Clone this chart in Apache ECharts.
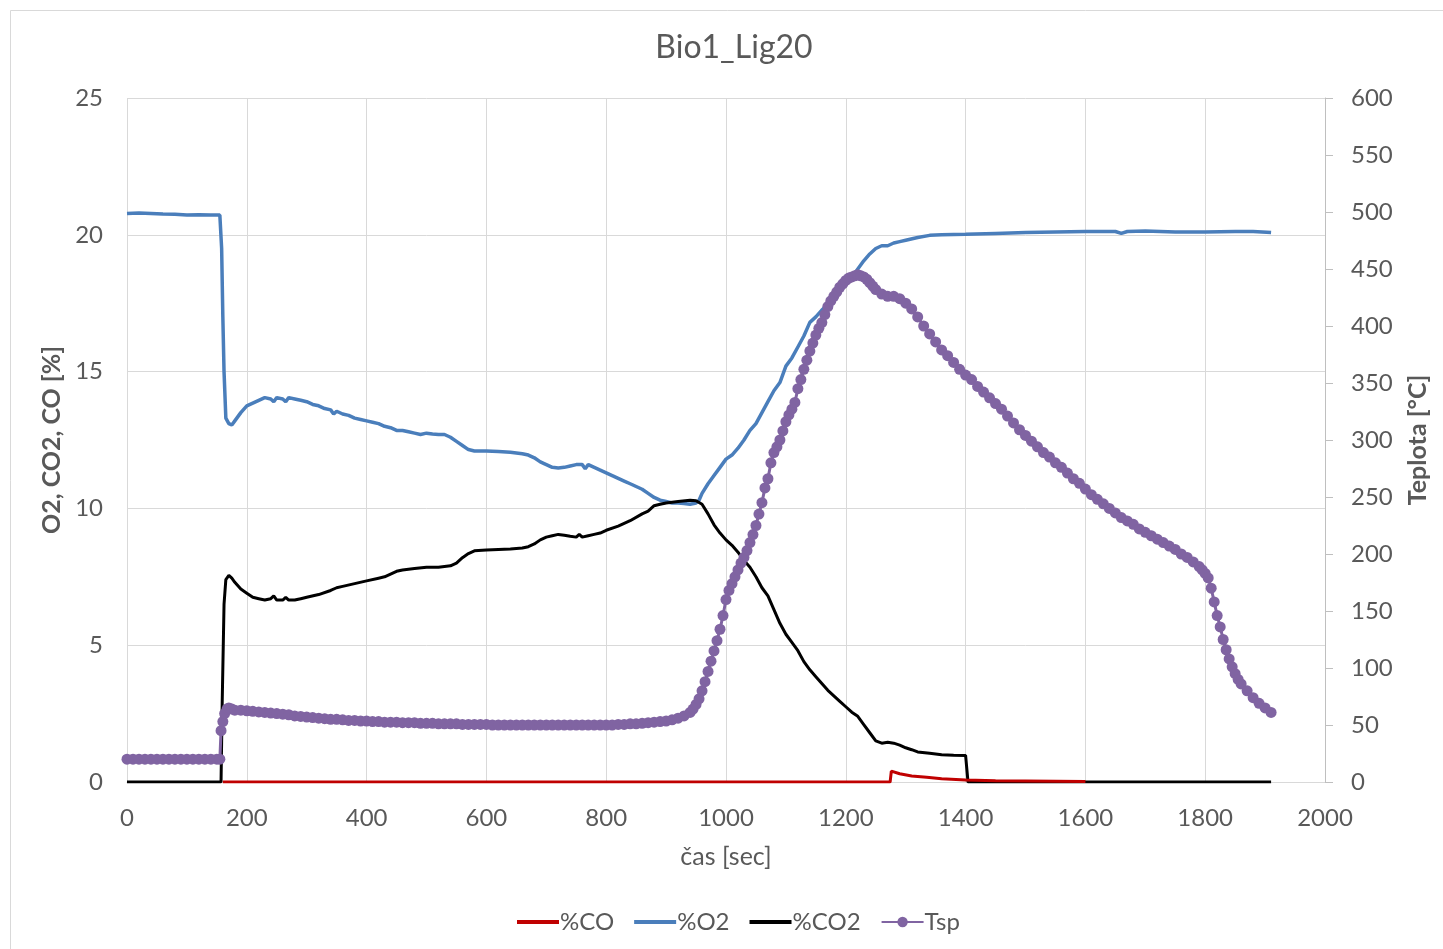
<!DOCTYPE html>
<html>
<head>
<meta charset="utf-8">
<title>Bio1_Lig20</title>
<script src="https://cdn.jsdelivr.net/npm/echarts@6/dist/echarts.min.js"></script>
<style>
  html, body { margin: 0; padding: 0; background: #ffffff; }
  #chart { width: 1443px; height: 949px; }
</style>
</head>
<body>
<div id="chart"></div>
<script>
// Measured gas concentrations [%] over time [s]
const coData = [
  [160, 0], [400, 0], [800, 0], [1200, 0], [1274, 0], [1276, 0.4], [1290, 0.3], [1310, 0.22],
  [1335, 0.17], [1360, 0.12], [1400, 0.07], [1450, 0.05], [1500, 0.04], [1550, 0.03], [1600, 0.02]
];

const o2Data = [
  [0, 20.78], [20, 20.8], [40, 20.78], [60, 20.76], [80, 20.75], [100, 20.72], [120, 20.73],
  [140, 20.72], [155, 20.72], [158, 19.5], [160, 17.0], [162, 15.0], [165, 13.3], [170, 13.1],
  [175, 13.05], [180, 13.2], [190, 13.5], [200, 13.75], [210, 13.85], [220, 13.95], [230, 14.05],
  [240, 14.0], [245, 13.9], [250, 14.05], [260, 14.0], [265, 13.9], [270, 14.05], [280, 14.0],
  [290, 13.95], [300, 13.9], [310, 13.8], [320, 13.75], [330, 13.65], [340, 13.6], [345, 13.45],
  [350, 13.55], [360, 13.45], [370, 13.4], [380, 13.3], [390, 13.25], [400, 13.2], [410, 13.15],
  [420, 13.1], [430, 13.0], [440, 12.95], [450, 12.85], [460, 12.85], [470, 12.8], [480, 12.75],
  [490, 12.7], [500, 12.75], [510, 12.72], [520, 12.7], [530, 12.7], [540, 12.6], [550, 12.45],
  [560, 12.3], [570, 12.15], [580, 12.1], [600, 12.1], [620, 12.08], [640, 12.05], [660, 12.0],
  [670, 11.95], [680, 11.85], [690, 11.7], [700, 11.6], [710, 11.5], [720, 11.48], [730, 11.5],
  [740, 11.55], [750, 11.6], [760, 11.6], [765, 11.45], [770, 11.6], [780, 11.5], [790, 11.4],
  [800, 11.3], [810, 11.2], [820, 11.1], [830, 11.0], [840, 10.9], [850, 10.8], [860, 10.7],
  [870, 10.55], [880, 10.4], [890, 10.3], [900, 10.25], [910, 10.2], [920, 10.2], [930, 10.18],
  [940, 10.15], [950, 10.2], [955, 10.3], [960, 10.55], [970, 10.9], [980, 11.2], [990, 11.5],
  [1000, 11.8], [1010, 11.95], [1020, 12.2], [1030, 12.5], [1040, 12.85], [1050, 13.1],
  [1060, 13.5], [1070, 13.9], [1080, 14.3], [1090, 14.6], [1100, 15.2], [1110, 15.5],
  [1120, 15.9], [1130, 16.3], [1140, 16.8], [1150, 17.0], [1160, 17.25], [1170, 17.45],
  [1180, 17.7], [1190, 17.95], [1200, 18.2], [1210, 18.45], [1220, 18.75], [1230, 19.05],
  [1240, 19.3], [1250, 19.5], [1260, 19.6], [1270, 19.6], [1280, 19.7], [1290, 19.75],
  [1300, 19.8], [1320, 19.9], [1340, 19.98], [1360, 20.0], [1400, 20.02], [1450, 20.05],
  [1500, 20.08], [1550, 20.1], [1600, 20.12], [1650, 20.12], [1660, 20.05], [1670, 20.12],
  [1700, 20.14], [1750, 20.1], [1800, 20.1], [1850, 20.12], [1880, 20.12], [1910, 20.08]
];

const co2Data = [
  [0, 0], [157, 0], [159, 3.0], [162, 6.5], [165, 7.4], [170, 7.55], [175, 7.45], [180, 7.3],
  [190, 7.05], [200, 6.9], [210, 6.75], [220, 6.7], [230, 6.65], [240, 6.7], [245, 6.8],
  [250, 6.65], [260, 6.65], [265, 6.75], [270, 6.65], [280, 6.65], [290, 6.7], [300, 6.75],
  [320, 6.85], [340, 7.0], [350, 7.1], [360, 7.15], [380, 7.25], [400, 7.35], [420, 7.45],
  [430, 7.5], [440, 7.6], [450, 7.7], [460, 7.75], [480, 7.8], [500, 7.85], [520, 7.85],
  [540, 7.9], [550, 8.0], [560, 8.2], [570, 8.35], [580, 8.45], [600, 8.48], [620, 8.5],
  [640, 8.52], [660, 8.55], [670, 8.6], [680, 8.7], [690, 8.85], [700, 8.95], [710, 9.0],
  [720, 9.05], [730, 9.02], [740, 8.98], [750, 8.95], [755, 9.05], [760, 8.95], [770, 9.0],
  [780, 9.05], [790, 9.1], [800, 9.2], [820, 9.35], [840, 9.55], [860, 9.8], [870, 9.9],
  [880, 10.1], [890, 10.15], [900, 10.2], [920, 10.25], [940, 10.3], [950, 10.28], [960, 10.15],
  [970, 9.8], [980, 9.4], [990, 9.1], [1000, 8.85], [1010, 8.65], [1020, 8.4], [1030, 8.1],
  [1040, 7.85], [1050, 7.5], [1060, 7.1], [1070, 6.8], [1080, 6.3], [1090, 5.8], [1100, 5.4],
  [1110, 5.1], [1120, 4.8], [1130, 4.4], [1140, 4.1], [1150, 3.85], [1160, 3.6], [1170, 3.35],
  [1180, 3.15], [1190, 2.95], [1200, 2.75], [1210, 2.55], [1220, 2.4], [1230, 2.1], [1240, 1.8],
  [1250, 1.5], [1260, 1.42], [1270, 1.45], [1280, 1.42], [1290, 1.35], [1300, 1.25], [1310, 1.18],
  [1320, 1.1], [1340, 1.05], [1360, 1.0], [1380, 0.98], [1400, 0.97], [1402, 0.97], [1404, 0],
  [1910, 0]
];

// Sample temperature [°C] over time [s]
const tspData = [
  [0, 20], [10, 20], [20, 20], [30, 20], [40, 20], [50, 20], [60, 20], [70, 20], [80, 20],
  [90, 20], [100, 20], [110, 20], [120, 20], [130, 20], [140, 20], [150, 20], [155, 20],
  [157, 45], [160, 53], [163, 60], [167, 64], [170, 65], [175, 64], [180, 63], [190, 63],
  [200, 62.5], [210, 62], [220, 61.5], [230, 61], [240, 60.5], [250, 60], [260, 59.5],
  [270, 59], [280, 58], [290, 57.5], [300, 57], [310, 56.5], [320, 56], [330, 55.5], [340, 55],
  [350, 55], [360, 54.5], [370, 54], [380, 54], [390, 53.5], [400, 53.5], [410, 53], [420, 53],
  [430, 52.5], [440, 52.5], [450, 52.5], [460, 52], [470, 52], [480, 52], [490, 51.5],
  [500, 51.5], [510, 51.5], [520, 51], [530, 51], [540, 51], [550, 51], [560, 50.5], [570, 50.5],
  [580, 50.5], [590, 50.5], [600, 50.5], [610, 50], [620, 50], [630, 50], [640, 50], [650, 50],
  [660, 50], [670, 50], [680, 50], [690, 50], [700, 50], [710, 50], [720, 50], [730, 50],
  [740, 50], [750, 50], [760, 50], [770, 50], [780, 50], [790, 50], [800, 50], [810, 50],
  [820, 50.5], [830, 50.5], [840, 51], [850, 51], [860, 51.5], [870, 52], [880, 52.5], [890, 53],
  [900, 53.5], [910, 54.5], [920, 56], [930, 58], [940, 61], [945, 64], [950, 68], [955, 73],
  [960, 80], [965, 88], [970, 97], [975, 106], [980, 115], [985, 124], [990, 134], [995, 146],
  [1000, 160], [1005, 168], [1010, 174], [1015, 180], [1020, 186], [1025, 192], [1030, 197],
  [1035, 203], [1040, 210], [1045, 217], [1050, 225], [1055, 235], [1060, 245], [1065, 258],
  [1070, 266], [1075, 280], [1080, 289], [1085, 294], [1090, 300], [1095, 308], [1100, 316],
  [1105, 322], [1110, 327], [1115, 333], [1120, 345], [1125, 353], [1130, 362], [1135, 370],
  [1140, 378], [1145, 385], [1150, 392], [1155, 398], [1160, 403], [1165, 410], [1170, 417],
  [1175, 422], [1180, 426], [1185, 430], [1190, 434], [1195, 437], [1200, 440], [1205, 442],
  [1210, 443], [1215, 444], [1220, 445], [1225, 444], [1230, 443], [1235, 441], [1240, 438],
  [1245, 435], [1250, 432], [1260, 428], [1270, 426], [1280, 426], [1290, 424], [1300, 420],
  [1310, 415], [1320, 408], [1330, 400], [1340, 393], [1350, 386], [1360, 379], [1370, 374],
  [1380, 368], [1390, 362], [1400, 357], [1410, 353], [1420, 347], [1430, 342], [1440, 337],
  [1450, 332], [1460, 327], [1470, 321], [1480, 315], [1490, 309], [1500, 304], [1510, 299],
  [1520, 294], [1530, 289], [1540, 285], [1550, 280], [1560, 276], [1570, 271], [1580, 266],
  [1590, 262], [1600, 257], [1610, 252], [1620, 248], [1630, 244], [1640, 240], [1650, 236],
  [1660, 232], [1670, 229], [1680, 226], [1690, 222], [1700, 219], [1710, 216], [1720, 213],
  [1730, 210], [1740, 207], [1750, 204], [1760, 200], [1770, 197], [1780, 193], [1790, 189],
  [1795, 186], [1800, 183], [1805, 179], [1810, 170], [1815, 158], [1820, 146], [1825, 136],
  [1830, 125], [1835, 116], [1840, 108], [1845, 101], [1850, 95], [1855, 90], [1860, 86],
  [1870, 80], [1880, 74], [1890, 69], [1900, 65], [1910, 61]
];

const FONT = 'Lato, "Open Sans", sans-serif';
const TEXT = '#595959';
const GRID = '#d9d9d9';
// Plain line swatch for the legend (the leading/trailing moves set the box to 42x13)
const LINE_ICON = 'path://M0,0 M0,4.5 H42 V8.5 H0 Z M42,13';

const plain = (v) => String(v);

const chart = echarts.init(document.getElementById('chart'), null, { renderer: 'canvas' });

chart.setOption({
  animation: false,
  backgroundColor: '#ffffff',
  textStyle: { fontFamily: FONT, color: TEXT },
  graphic: [{
    type: 'rect',
    shape: { x: 10.5, y: 10.5, width: 1440, height: 945 },
    style: { fill: 'none', stroke: '#d9d9d9', lineWidth: 1 },
    silent: true
  }],
  title: {
    text: 'Bio1_Lig20',
    left: 729,
    textAlign: 'center',
    top: 27,
    textStyle: { fontFamily: FONT, fontSize: 32, fontWeight: 'normal', color: TEXT }
  },
  legend: {
    bottom: 10,
    left: 512,
    itemWidth: 42,
    itemHeight: 13,
    itemGap: 20,
    textStyle: { fontFamily: FONT, fontSize: 24, color: TEXT, padding: [0, 0, 0, -4] },
    data: [
      { name: '%CO', icon: LINE_ICON },
      { name: '%O2', icon: LINE_ICON },
      { name: '%CO2', icon: LINE_ICON },
      { name: 'Tsp' }
    ]
  },
  grid: { left: 127, right: 118, top: 98, bottom: 167 },
  xAxis: {
    type: 'value',
    min: 0,
    max: 2000,
    interval: 200,
    name: 'čas [sec]',
    nameLocation: 'middle',
    nameGap: 62,
    nameTextStyle: { fontFamily: FONT, fontSize: 25, color: TEXT },
    axisLine: { show: true, lineStyle: { color: GRID, width: 1 } },
    axisTick: { show: false },
    axisLabel: { fontFamily: FONT, fontSize: 24, color: TEXT, margin: 24, formatter: plain },
    splitLine: { show: true, lineStyle: { color: GRID, width: 1 } }
  },
  yAxis: [{
    type: 'value',
    min: 0,
    max: 25,
    interval: 5,
    name: 'O2, CO2, CO [%]',
    nameLocation: 'middle',
    nameRotate: 90,
    nameGap: 62,
    nameTextStyle: { fontFamily: FONT, fontSize: 25, fontWeight: 'bold', color: TEXT },
    axisLine: { show: false },
    axisTick: { show: false },
    axisLabel: { fontFamily: FONT, fontSize: 24, color: TEXT, margin: 24, formatter: plain },
    splitLine: { show: true, lineStyle: { color: GRID, width: 1 } }
  }, {
    type: 'value',
    position: 'right',
    min: 0,
    max: 600,
    interval: 50,
    name: 'Teplota [°C]',
    nameLocation: 'middle',
    nameRotate: 90,
    nameGap: 80,
    nameTextStyle: { fontFamily: FONT, fontSize: 25, fontWeight: 'bold', color: TEXT },
    axisLine: { show: true, lineStyle: { color: '#bfbfbf', width: 1 } },
    axisTick: { show: true, length: 8, lineStyle: { color: '#bfbfbf' } },
    axisLabel: { fontFamily: FONT, fontSize: 24, color: TEXT, margin: 26, formatter: plain },
    splitLine: { show: false }
  }],
  series: [{
    name: '%CO',
    type: 'line',
    yAxisIndex: 0,
    data: coData,
    z: 4,
    symbol: 'none',
    color: '#c00000',
    lineStyle: { color: '#c00000', width: 3 }
  }, {
    name: '%O2',
    type: 'line',
    yAxisIndex: 0,
    data: o2Data,
    symbol: 'none',
    color: '#4a7ebb',
    lineStyle: { color: '#4a7ebb', width: 3.5 }
  }, {
    name: '%CO2',
    type: 'line',
    yAxisIndex: 0,
    data: co2Data,
    symbol: 'none',
    color: '#000000',
    lineStyle: { color: '#000000', width: 3 }
  }, {
    name: 'Tsp',
    type: 'line',
    yAxisIndex: 1,
    data: tspData,
    symbol: 'circle',
    symbolSize: 11,
    showAllSymbol: true,
    color: '#8064a2',
    itemStyle: { color: '#8064a2' },
    lineStyle: { color: '#8064a2', width: 3 }
  }]
});
</script>
</body>
</html>
